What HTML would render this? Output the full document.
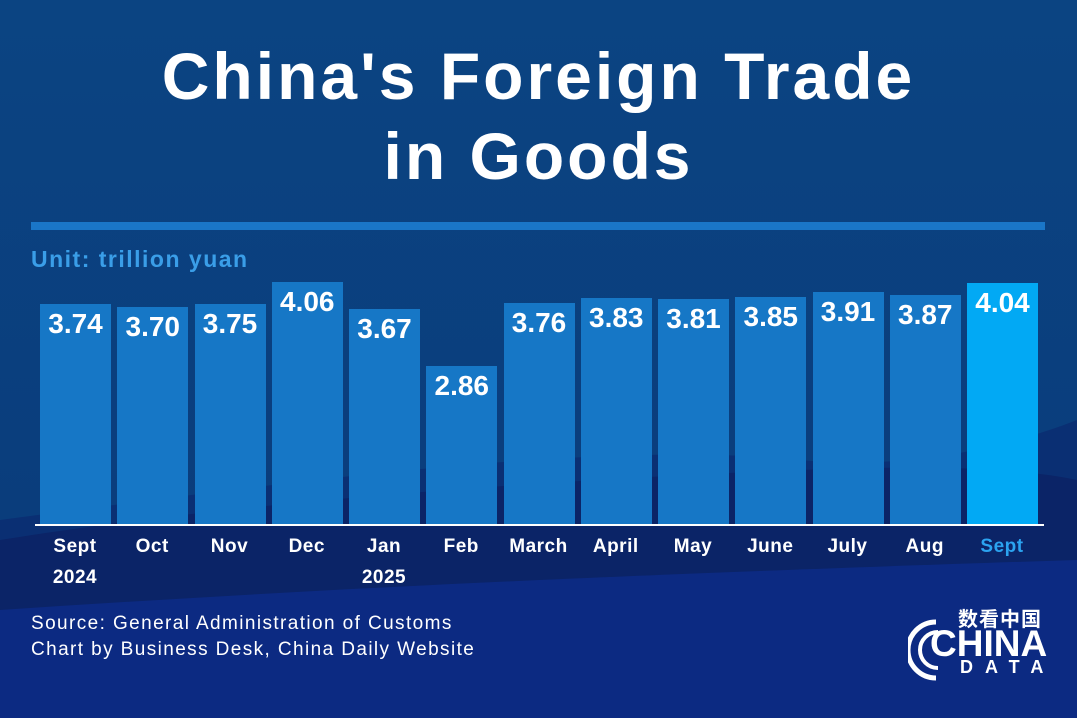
<!DOCTYPE html>
<html><head><meta charset="utf-8"><style>
body{margin:0;width:1077px;height:718px;overflow:hidden;font-family:"Liberation Sans","Noto Sans CJK SC",sans-serif;}
#c{position:relative;width:1077px;height:718px;background:#0b4482;}
.t{position:absolute;left:0;width:1077px;text-align:center;color:#fff;font-weight:bold;font-size:66px;letter-spacing:3px;}
.bar{position:absolute;width:71px;background:#1677c6;}
.v{position:absolute;width:71px;text-align:center;color:#fff;font-weight:bold;font-size:28px;}
.m{position:absolute;width:90px;text-align:center;color:#fff;font-weight:bold;font-size:19px;letter-spacing:0.5px;line-height:31px;}
</style></head><body><div id="c">
<svg width="1077" height="718" style="position:absolute;left:0;top:0">
<defs><linearGradient id="g" x1="0" y1="0" x2="0" y2="1"><stop offset="0" stop-color="#0b4482"/><stop offset="1" stop-color="#0a3a7a"/></linearGradient></defs>
<rect width="1077" height="718" fill="url(#g)"/>
<path d="M0 520 C300 480 600 440 800 460 C900 470 1000 450 1077 420 L1077 718 L0 718Z" fill="#0a2f73"/>
<path d="M0 540 C250 500 550 480 800 470 C950 464 1030 470 1077 480 L1077 718 L0 718Z" fill="#0b2467"/>
<path d="M0 610 C300 590 600 575 1077 560 L1077 718 L0 718Z" fill="#0c2a82"/>
</svg>
<div class="t" style="top:38px">China's Foreign Trade</div>
<div class="t" style="top:118px">in Goods</div>
<div style="position:absolute;left:31px;top:222px;width:1014px;height:8px;background:#1a76c8"></div>
<div style="position:absolute;left:31px;top:246px;color:#3a9ee8;font-weight:bold;font-size:23px;letter-spacing:1.5px">Unit: trillion yuan</div>
<div id="bars"></div>
<div style="position:absolute;left:35px;top:524px;width:1009px;height:2px;background:#fff"></div>
<div style="position:absolute;left:31px;top:611px;color:#fff;font-size:19px;letter-spacing:1.4px;line-height:26px">Source: General Administration of Customs<br>Chart by Business Desk, China Daily Website</div>
<svg width="60" height="70" style="position:absolute;left:908px;top:616px"><path d="M28 6 A28 28 0 0 0 28 62" stroke="#fff" stroke-width="5" fill="none"/><path d="M30 16 A18 18 0 0 0 30 52" stroke="#fff" stroke-width="4" fill="none"/></svg>
<div style="position:absolute;left:958px;top:603px;color:#fff;font-weight:bold;font-size:20px;letter-spacing:1px">数看中国</div>
<div style="position:absolute;left:930px;top:623px;color:#fff;font-weight:bold;font-size:37px;letter-spacing:0px">CHINA</div>
<div style="position:absolute;left:960px;top:657px;color:#fff;font-weight:bold;font-size:18px;letter-spacing:12px">DATA</div>
</div>
<script>
var d=[["3.74","Sept","2024"],["3.70","Oct"],["3.75","Nov"],["4.06","Dec"],["3.67","Jan","2025"],["2.86","Feb"],["3.76","March"],["3.83","April"],["3.81","May"],["3.85","June"],["3.91","July"],["3.87","Aug"],["4.04","Sept"]];
var h="";d.forEach(function(e,i){var x=40+i*77.25,v=parseFloat(e[0]),ht=70*v-42,top=524-ht,last=i==12;
h+='<div class="bar" style="left:'+x+'px;top:'+top+'px;height:'+ht+'px;background:'+(last?'#02a9f4':'#1677c6')+'"></div>';
h+='<div class="v" style="left:'+x+'px;top:'+(top+4)+'px">'+e[0]+'</div>';
h+='<div class="m" style="left:'+(x-10)+'px;top:531px;color:'+(last?'#2ba3f0':'#fff')+'">'+e[1]+(e[2]?'<br>'+e[2]:'')+'</div>';});
document.getElementById('bars').innerHTML=h;
</script>
</body></html>
